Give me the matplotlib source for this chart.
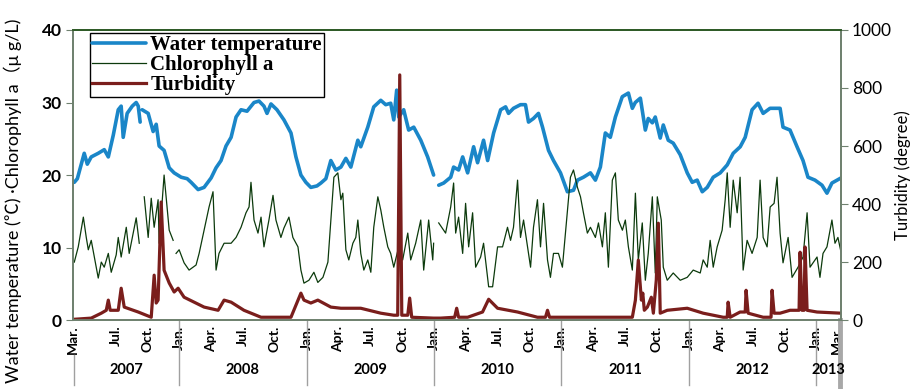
import numpy as np
import matplotlib
matplotlib.use("Agg")
import matplotlib.pyplot as plt
import matplotlib.transforms as mtransforms

# time is in decimal years, NaN = gap in the record
nan = np.nan

temp_t = [2007.177, 2007.201, 2007.232, 2007.255, 2007.279, 2007.310, 2007.365, 2007.412,
          2007.444, 2007.483, 2007.522, 2007.545, 2007.561, 2007.592, 2007.632, 2007.663,
          2007.679, 2007.694, 2007.702, 2007.710, 2007.757, 2007.796, 2007.820, 2007.843,
          2007.882, 2007.922, 2007.961, 2008.016, 2008.063, 2008.094, 2008.149, 2008.196,
          2008.251, 2008.290, 2008.329, 2008.368, 2008.408, 2008.447, 2008.486, 2008.533,
          2008.588, 2008.627, 2008.666, 2008.690, 2008.721, 2008.768, 2008.823, 2008.878,
          2008.917, 2008.956, 2008.995, 2009.034, 2009.082, 2009.113, 2009.152, 2009.191,
          2009.230, 2009.270, 2009.309, 2009.348, 2009.403, 2009.426, 2009.481, 2009.528,
          2009.583, 2009.622, 2009.661, 2009.685, 2009.708, 2009.724, 2009.763, 2009.802,
          2009.842, 2009.897, 2009.951, 2009.998, 2010.018, 2010.038, 2010.077, 2010.132,
          2010.155, 2010.194, 2010.226, 2010.265, 2010.312, 2010.343, 2010.390, 2010.422,
          2010.469, 2010.524, 2010.563, 2010.586, 2010.625, 2010.680, 2010.719, 2010.743,
          2010.782, 2010.821, 2010.853, 2010.900, 2010.939, 2010.994, 2011.048, 2011.096,
          2011.127, 2011.174, 2011.229, 2011.268, 2011.307, 2011.346, 2011.385, 2011.425,
          2011.479, 2011.527, 2011.558, 2011.581, 2011.621, 2011.660, 2011.683, 2011.715,
          2011.738, 2011.777, 2011.801, 2011.840, 2011.879, 2011.934, 2011.989, 2012.028,
          2012.067, 2012.107, 2012.146, 2012.193, 2012.248, 2012.303, 2012.350, 2012.405,
          2012.444, 2012.498, 2012.545, 2012.585, 2012.639, 2012.718, 2012.741, 2012.796,
          2012.851, 2012.898, 2012.937, 2012.992, 2013.047, 2013.086, 2013.125, 2013.165,
          2013.196]
temp_v = [19.0, 19.5, 21.5, 23.0, 21.5, 22.5, 23.0, 23.5,
          22.5, 25.5, 29.0, 29.5, 25.2, 28.5, 29.5, 30.0,
          29.5, 27.3, nan, 29.0, 28.5, 26.0, 27.0, 24.0,
          23.4, 21.0, 20.3, 19.7, 19.5, 19.0, 18.0, 18.3,
          19.6, 21.0, 22.0, 24.0, 25.2, 28.0, 29.0, 28.8,
          30.0, 30.2, 29.5, 28.5, 29.8, 29.0, 27.6, 25.8,
          22.5, 20.0, 19.0, 18.3, 18.5, 18.9, 19.5, 22.0,
          20.7, 21.1, 22.3, 21.1, 24.8, 23.9, 26.6, 29.4,
          30.3, 29.7, 29.9, 27.6, 31.7, 28.0, 29.0, 26.2,
          26.6, 24.8, 22.5, 20.0, nan, 18.6, 18.9, 19.7,
          21.1, 20.7, 22.5, 20.3, 23.9, 21.7, 24.8, 22.0,
          25.8, 29.0, 29.4, 28.5, 29.2, 29.7, 29.7, 27.3,
          27.8, 28.5, 26.6, 23.4, 22.0, 20.3, 17.7, 17.9,
          19.3, 19.7, 20.3, 19.3, 21.1, 25.8, 25.2, 28.0,
          30.8, 31.3, 29.2, 30.0, 30.6, 26.2, 27.8, 27.2,
          28.0, 25.1, 26.9, 24.8, 24.4, 22.8, 20.3, 19.0,
          19.3, 17.7, 18.3, 19.7, 20.3, 21.4, 23.0, 23.9,
          25.2, 29.0, 29.9, 28.5, 29.2, 29.2, 26.6, 26.2,
          23.9, 22.0, 19.7, 19.3, 18.6, 17.5, 18.9, 19.3,
          19.6]

chl_t = [2007.177, 2007.208, 2007.248, 2007.271, 2007.287, 2007.310, 2007.334, 2007.365,
         2007.389, 2007.412, 2007.444, 2007.467, 2007.506, 2007.522, 2007.545, 2007.585,
         2007.608, 2007.663, 2007.687, 2007.705, 2007.726, 2007.757, 2007.781, 2007.804,
         2007.835, 2007.843, 2007.882, 2007.898, 2007.922, 2007.953, 2007.965, 2007.976,
         2008.000, 2008.039, 2008.078, 2008.133, 2008.157, 2008.196, 2008.235, 2008.266,
         2008.290, 2008.313, 2008.353, 2008.408, 2008.447, 2008.486, 2008.525, 2008.549,
         2008.564, 2008.588, 2008.619, 2008.643, 2008.666, 2008.705, 2008.737, 2008.760,
         2008.799, 2008.823, 2008.862, 2008.893, 2008.933, 2008.956, 2008.980, 2009.019,
         2009.058, 2009.089, 2009.129, 2009.168, 2009.191, 2009.215, 2009.246, 2009.270,
         2009.285, 2009.309, 2009.332, 2009.364, 2009.387, 2009.403, 2009.426, 2009.450,
         2009.481, 2009.505, 2009.528, 2009.560, 2009.583, 2009.607, 2009.638, 2009.661,
         2009.685, 2009.724, 2009.755, 2009.795, 2009.818, 2009.857, 2009.897, 2009.920,
         2009.959, 2009.991, 2009.998, 2010.018, 2010.038, 2010.092, 2010.132, 2010.155,
         2010.171, 2010.194, 2010.226, 2010.249, 2010.273, 2010.304, 2010.328, 2010.367,
         2010.390, 2010.430, 2010.461, 2010.500, 2010.539, 2010.578, 2010.602, 2010.625,
         2010.657, 2010.680, 2010.704, 2010.735, 2010.759, 2010.782, 2010.813, 2010.837,
         2010.861, 2010.892, 2010.915, 2010.939, 2010.978, 2011.009, 2011.049, 2011.072,
         2011.096, 2011.127, 2011.151, 2011.174, 2011.205, 2011.229, 2011.268, 2011.292,
         2011.323, 2011.346, 2011.370, 2011.401, 2011.425, 2011.448, 2011.480, 2011.503,
         2011.527, 2011.558, 2011.582, 2011.605, 2011.636, 2011.660, 2011.683, 2011.715,
         2011.738, 2011.754, 2011.785, 2011.801, 2011.832, 2011.879, 2011.934, 2011.989,
         2012.036, 2012.091, 2012.114, 2012.146, 2012.169, 2012.193, 2012.224, 2012.263,
         2012.287, 2012.303, 2012.326, 2012.350, 2012.381, 2012.404, 2012.428, 2012.459,
         2012.498, 2012.538, 2012.561, 2012.585, 2012.616, 2012.640, 2012.671, 2012.694,
         2012.718, 2012.741, 2012.781, 2012.812, 2012.859, 2012.898, 2012.930, 2012.953,
         2013.008, 2013.031, 2013.055, 2013.086, 2013.125, 2013.149, 2013.172, 2013.196]
chl_v = [8.0, 10.1, 14.2, 11.4, 9.7, 11.0, 8.7, 5.8,
         8.0, 7.3, 9.2, 6.6, 9.0, 11.4, 8.7, 12.8,
         9.2, 14.1, 10.6, nan, 17.0, 11.4, 16.8, 12.8,
         16.6, 10.6, 20.0, 17.0, 12.4, 11.0, nan, 9.2,
         9.7, 7.9, 6.9, 7.6, 9.2, 12.4, 15.6, 17.7,
         6.9, 9.2, 10.6, 10.6, 11.4, 12.8, 14.8, 15.6,
         19.0, 13.8, 12.0, 14.2, 10.1, 13.8, 17.2, 13.8,
         11.4, 12.7, 14.2, 11.4, 10.1, 6.9, 5.1, 5.5,
         6.6, 5.2, 5.9, 8.0, 13.8, 19.7, 20.3, 16.6,
         17.5, 9.7, 8.3, 10.6, 11.4, 13.8, 9.2, 6.9,
         8.3, 6.6, 12.8, 17.0, 15.2, 12.8, 10.1, 9.2,
         7.3, 10.1, 8.3, 12.0, 8.3, 10.6, 13.8, 6.9,
         13.8, 8.3, 10.6, nan, 13.4, 12.0, 15.6, 18.9,
         12.0, 14.2, 9.2, 16.1, 10.1, 14.8, 7.3, 8.7,
         10.6, 4.6, 4.6, 10.1, 10.1, 12.8, 11.0, 12.8,
         19.3, 11.4, 13.8, 10.1, 7.3, 12.8, 16.6, 10.1,
         16.1, 8.3, 5.9, 9.2, 9.2, 7.3, 15.2, 19.7,
         20.7, 18.3, 17.0, 14.8, 12.0, 12.8, 11.4, 13.4,
         10.1, 14.8, 7.3, 19.3, 20.3, 13.8, 12.4, 13.8,
         10.1, 6.9, 17.5, 8.3, 13.4, 5.5, 9.2, 17.0,
         6.5, 17.0, 13.8, 7.3, 5.5, 6.5, 5.5, 5.9,
         6.9, 6.5, 8.3, 7.3, 11.0, 7.3, 10.1, 12.4,
         16.6, 20.3, 12.8, 19.3, 14.8, 19.7, 6.9, 11.0,
         9.2, 11.4, 19.3, 11.4, 10.1, 15.6, 16.1, 19.7,
         12.0, 7.9, 11.4, 5.9, 7.3, 8.7, 14.8, 7.3,
         8.7, 5.9, 9.2, 10.1, 13.8, 10.6, 11.4, 9.4]

turb_t = [2007.177, 2007.310, 2007.389, 2007.428, 2007.444, 2007.459, 2007.522, 2007.545,
          2007.569, 2007.679, 2007.781, 2007.804, 2007.820, 2007.835, 2007.859, 2007.882,
          2007.922, 2007.961, 2007.992, 2008.039, 2008.196, 2008.306, 2008.353, 2008.408,
          2008.509, 2008.643, 2008.776, 2008.878, 2008.956, 2008.980, 2009.034, 2009.089,
          2009.191, 2009.270, 2009.426, 2009.583, 2009.685, 2009.716, 2009.732, 2009.748,
          2009.795, 2009.810, 2009.826, 2009.998, 2010.053, 2010.163, 2010.179, 2010.194,
          2010.265, 2010.382, 2010.430, 2010.500, 2010.657, 2010.813, 2010.876, 2010.892,
          2010.908, 2011.151, 2011.409, 2011.558, 2011.582, 2011.605, 2011.629, 2011.640,
          2011.652, 2011.676, 2011.707, 2011.723, 2011.746, 2011.762, 2011.777, 2011.832,
          2011.989, 2012.114, 2012.271, 2012.303, 2012.310, 2012.326, 2012.404, 2012.444,
          2012.451, 2012.467, 2012.585, 2012.647, 2012.655, 2012.671, 2012.718, 2012.796,
          2012.867, 2012.875, 2012.890, 2012.906, 2012.914, 2012.930, 2013.008, 2013.196]
turb_v = [3, 7, 24, 34, 69, 34, 34, 110,
          45, 28, 10, 155, 59, 69, 407, 172,
          128, 97, 110, 79, 45, 34, 69, 62,
          34, 10, 10, 10, 93, 69, 59, 69,
          45, 41, 41, 24, 17, 17, 845, 17,
          17, 76, 10, 7, 7, 10, 41, 10,
          10, 28, 72, 41, 28, 10, 10, 34,
          10, 10, 10, 10, 69, 207, 69, 93,
          34, 45, 79, 24, 138, 334, 24, 34,
          41, 24, 10, 10, 62, 10, 28, 28,
          103, 24, 10, 10, 103, 24, 24, 34,
          34, 234, 34, 34, 252, 34, 28, 24]

tick_year = [2007, 2007, 2007, 2008, 2008, 2008, 2008, 2009, 2009, 2009, 2009,
             2010, 2010, 2010, 2010, 2011, 2011, 2011, 2011, 2012, 2012, 2012, 2012,
             2013, 2013]
tick_month = [3, 7, 10, 1, 4, 7, 10, 1, 4, 7, 10, 1, 4, 7, 10, 1, 4, 7, 10, 1, 4, 7, 10, 1, 3]
month_names = {1: 'Jan.', 3: 'Mar.', 4: 'Apr.', 7: 'Jul.', 10: 'Oct.'}
years = [2007, 2008, 2009, 2010, 2011, 2012, 2013]

t0, t1 = 2007.177, 2013.196

blue = '#1a86c8'
green = '#0c3a0c'
red = '#7a1e1c'
spine_c = '#6f816f'

fig = plt.figure(figsize=(9.18, 3.89), dpi=100)
ax = fig.add_axes([0.0795, 0.177, 0.8366, 0.746])
ax2 = ax.twinx()

l1, = ax.plot(temp_t, temp_v, color=blue, lw=2.6, solid_capstyle='round', label='Water temperature')
l2, = ax.plot(chl_t, chl_v, color=green, lw=0.9, label='Chlorophyll a')
l3, = ax2.plot(turb_t, turb_v, color=red, lw=2.3, label='Turbidity')

ax.set_xlim(t0, t1)
ax.set_ylim(0, 40)
ax2.set_ylim(0, 1000)
ax.set_yticks([0, 10, 20, 30, 40])
ax2.set_yticks([0, 200, 400, 600, 800, 1000])

for a in (ax, ax2):
    for s in a.spines.values():
        s.set_color(spine_c)
        s.set_linewidth(1.3)
    a.spines['top'].set_color('#2e5a26')
ax.tick_params(axis='y', direction='out', length=5, color=spine_c, labelsize=12.5, pad=3)
ax2.tick_params(axis='y', direction='out', length=5, color=spine_c, labelsize=12.5, pad=3)
for lab in ax.get_yticklabels():
    lab.set_fontweight('bold')
    lab.set_family('Lato')
for lab in ax2.get_yticklabels():
    lab.set_family('Lato')

# month labels
tick_pos = [y + (m - 1) / 12 for y, m in zip(tick_year, tick_month)]
tick_lab = [month_names[m] for m in tick_month]
ax.set_xticks(tick_pos)
ax.set_xticklabels(tick_lab, rotation=90, fontsize=10, fontweight='bold', family='Lato')
ax.tick_params(axis='x', length=0, pad=4)

# year separators and year labels
trans = mtransforms.blended_transform_factory(ax.transData, ax.transAxes)
bounds = [t0] + [float(y) for y in years[1:]] + [t1]
for b in bounds[1:-1]:
    ax.plot([b, b], [0, -0.225], transform=trans, color='#a0a0a0', lw=1, clip_on=False)
ax.plot([t0, t0], [-0.12, -0.225], transform=trans, color='#a0a0a0', lw=1, clip_on=False)
ax.plot([t1 - 0.004, t1 - 0.004], [0, -0.24], transform=trans, color='#a8a8a8', lw=3.5, clip_on=False)
for i, y in enumerate(years):
    ax.text((bounds[i] + bounds[i + 1]) / 2, -0.172, str(y), transform=trans, ha='center',
            va='center', fontsize=10.5, fontweight='bold', family='Lato')

ax.set_ylabel('Water temperature (℃) ·Chlorophyll a（μ g/L)', fontsize=13,
              family=['Lato', 'Noto Sans CJK JP'])
ax.yaxis.set_label_coords(-0.066, 0.41)
ax2.set_ylabel('Turbidity (degree)', fontsize=12, family='Lato')
ax2.yaxis.set_label_coords(1.07, 0.5)

leg = ax2.legend([l1, l2, l3], ['Water temperature', 'Chlorophyll a', 'Turbidity'],
                 loc='upper left', bbox_to_anchor=(0.022, 0.99), fancybox=False,
                 edgecolor='black', framealpha=1, handlelength=2.6, borderpad=0.1,
                 labelspacing=0.0, handletextpad=0.2, borderaxespad=0,
                 prop={'family': 'Liberation Serif', 'weight': 'bold', 'size': 15})
leg.get_frame().set_linewidth(1.0)

fig.savefig('out.png', dpi=100)
